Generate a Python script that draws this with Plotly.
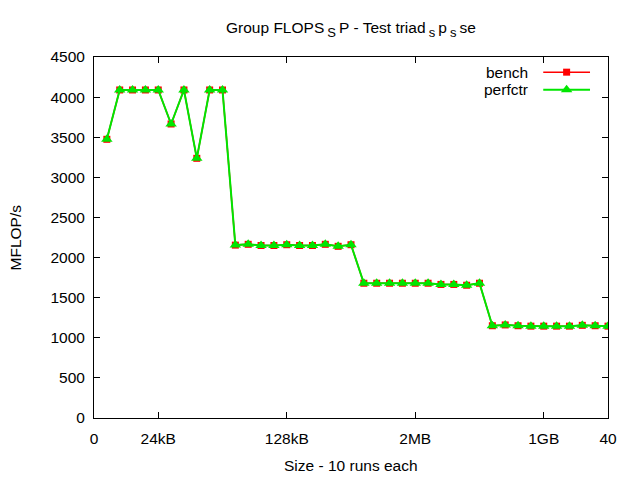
import plotly.graph_objects as go

# ---- data ----
x_index = list(range(1, 41))
bench = [3474, 4089, 4089, 4089, 4089, 3665, 4089, 3237, 4089, 4089,
         2155, 2165, 2150, 2150, 2160, 2150, 2150, 2165, 2140, 2160,
         1680, 1680, 1680, 1680, 1680, 1680, 1665, 1665, 1655, 1680,
         1150, 1160, 1150, 1145, 1145, 1145, 1145, 1155, 1150, 1145]
perfctr = [3474, 4089, 4089, 4089, 4089, 3665, 4089, 3237, 4089, 4089,
           2155, 2165, 2150, 2150, 2160, 2150, 2150, 2165, 2140, 2160,
           1680, 1680, 1680, 1680, 1680, 1680, 1665, 1665, 1655, 1680,
           1150, 1160, 1150, 1145, 1145, 1145, 1145, 1155, 1150, 1145]
x_tickvals = [0, 5, 15, 25, 35, 40]
x_ticktext = ["0", "24kB", "128kB", "2MB", "1GB", "40"]
series_names = ["bench", "perfctr"]

RED = "#ff0000"
GREEN = "#00e600"
FONT = "Liberation Sans"
FS = 15.5


def sub(t):
    return "\u2009<sub><span style='font-size:13px'>" + t + "</span></sub>\u2009"


title_text = "Group FLOPS" + sub("S") + "P - Test triad" + sub("s") + "p" + sub("s") + "se"

fig = go.Figure()
fig.add_trace(go.Scatter(x=x_index, y=bench, mode="lines+markers", name=series_names[0],
                         line=dict(color=RED, width=1.5),
                         marker=dict(symbol="square", size=7, color=RED),
                         showlegend=False))
fig.add_trace(go.Scatter(x=x_index, y=perfctr, mode="lines+markers", name=series_names[1],
                         line=dict(color=GREEN, width=2),
                         marker=dict(symbol="triangle-up", size=10, color=GREEN),
                         showlegend=False))

# custom gnuplot-style legend on an overlay axis (0..1 both ways)
leg_rows = [0.958, 0.909]
leg_styles = [(RED, "square", 7, 1.5), (GREEN, "triangle-up", 10, 2)]
for name, yrow, (col, sym, msz, lw) in zip(series_names, leg_rows, leg_styles):
    fig.add_trace(go.Scatter(x=[0.874, 0.965], y=[yrow, yrow], mode="lines",
                             line=dict(color=col, width=lw), xaxis="x2", yaxis="y2",
                             showlegend=False, hoverinfo="skip"))
    fig.add_trace(go.Scatter(x=[0.9195], y=[yrow], mode="markers",
                             marker=dict(symbol=sym, size=msz, color=col), xaxis="x2", yaxis="y2",
                             showlegend=False, hoverinfo="skip"))
    fig.add_annotation(x=0.849, y=yrow, xref="paper", yref="paper", text=name,
                       showarrow=False, xanchor="right", yanchor="middle",
                       font=dict(family=FONT, size=FS, color="black"))

axis_common = dict(showgrid=False, zeroline=False, showline=True, linecolor="black",
                   linewidth=1, mirror="allticks", ticks="inside", ticklen=6,
                   tickcolor="black", tickfont=dict(family=FONT, size=FS, color="black"))

fig.update_layout(
    width=640, height=480,
    margin=dict(l=94, r=32, t=57, b=62),
    paper_bgcolor="white", plot_bgcolor="white",
    font=dict(family=FONT, size=FS, color="black"),
    title=dict(text=title_text,
               x=(94 + 608) / 2 / 640, xanchor="center", y=1 - 28 / 480, yanchor="middle",
               font=dict(family=FONT, size=FS, color="black")),
    xaxis=dict(range=[0, 40], tickvals=x_tickvals, ticktext=x_ticktext,
               ticklabelstandoff=6, **axis_common),
    yaxis=dict(range=[0, 4500], dtick=500, ticklabelstandoff=5, **axis_common),
    xaxis2=dict(range=[0, 1], overlaying="x", visible=False, fixedrange=True),
    yaxis2=dict(range=[0, 1], overlaying="y", visible=False, fixedrange=True),
)

fig.add_annotation(x=0.5, y=0, xref="paper", yref="paper", yshift=-47, text="Size - 10 runs each",
                   showarrow=False, xanchor="center", yanchor="middle",
                   font=dict(family=FONT, size=FS, color="black"))
fig.add_annotation(x=0, y=0.5, xref="paper", yref="paper", xshift=-79, text="MFLOP/s",
                   textangle=-90, showarrow=False, xanchor="center", yanchor="middle",
                   font=dict(family=FONT, size=FS, color="black"))

fig.write_html("out.html")
